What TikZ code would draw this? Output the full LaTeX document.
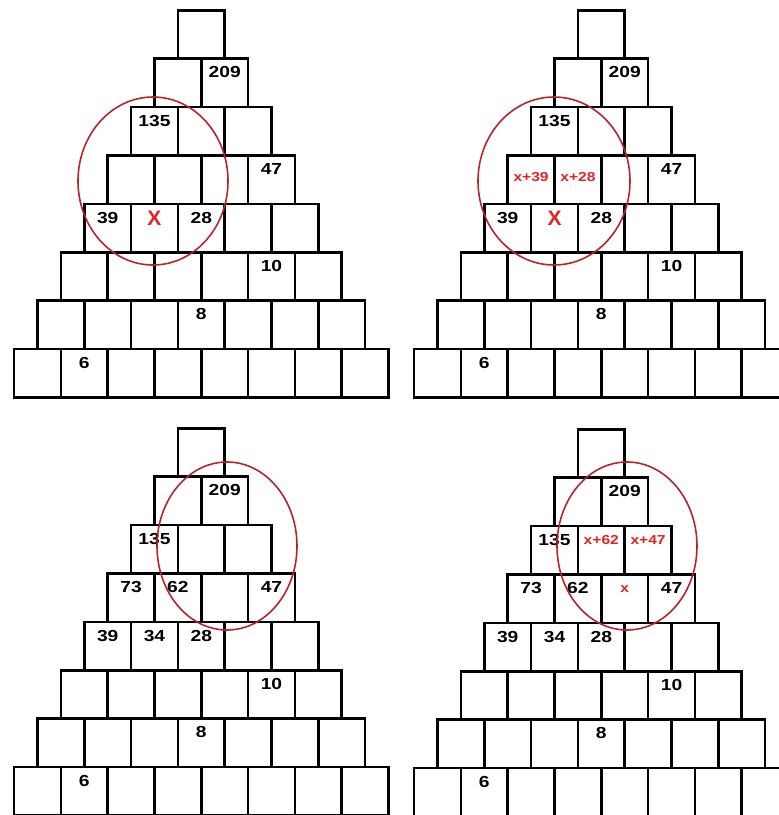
\documentclass[tikz,border=0pt]{standalone}
\usepackage{fontspec}
\setmainfont{Liberation Sans}
\newfontfamily\boxfont[FakeStretch=1.2]{Liberation Sans}
\usetikzlibrary{positioning}

\definecolor{ringred}{RGB}{185,35,45}
\definecolor{markred}{RGB}{225,35,35}

\begin{document}
\begin{tikzpicture}[x=1pt,y=-1pt,
    cell/.style={draw, line width=2.6pt, minimum width=46.8pt, minimum height=48.4pt,
      inner sep=0pt, anchor=north west},
    num/.style={font=\boxfont\bfseries\fontsize{16}{16}\selectfont, inner sep=0pt},
    rednum/.style={num, text=markred, font=\boxfont\bfseries\fontsize{13}{13}\selectfont},
    bigx/.style={num, text=markred, font=\bfseries\fontsize{21}{21}\selectfont},
    ring/.style={draw=ringred, line width=1.6pt}]
  \useasboundingbox (0,0) rectangle (779,815);
  \clip (0,0) rectangle (779,815);

  % the four pyramids of cells
  \foreach \p/\ox/\oy in {a/200/9, b/600/9, c/200/427, d/600/428} {
    \foreach \r in {1,...,8} {
      \foreach \c in {1,...,\r} {
        \node[cell] (\p-\r-\c) at ({\ox-\r*23.4+(\c-1)*46.8}, {\oy+(\r-1)*48.4}) {};
      }
    }
  }

  % given numbers
  \foreach \p in {a,b,c,d} {
    \foreach \r/\c/\t in {2/2/209, 3/1/135, 4/4/47, 5/1/39, 5/3/28, 6/5/10, 7/4/8, 8/2/6}
      \node[num] (\p-t-\r-\c) at ([yshift=-15pt]\p-\r-\c.north) {\t};
  }
  \foreach \p in {c,d} {
    \foreach \r/\c/\t in {4/1/73, 4/2/62, 5/2/34}
      \node[num] (\p-t-\r-\c) at ([yshift=-15pt]\p-\r-\c.north) {\t};
  }

  % unknowns
  \node[bigx] (a-t-5-2) at ([yshift=-16pt]a-5-2.north) {X};
  \node[bigx] (b-t-5-2) at ([yshift=-16pt]b-5-2.north) {X};
  \node[rednum] (b-t-4-1) at ([yshift=-23pt]b-4-1.north) {x+39};
  \node[rednum] (b-t-4-2) at ([yshift=-23pt]b-4-2.north) {x+28};
  \node[rednum] (d-t-3-2) at ([yshift=-15pt]d-3-2.north) {x+62};
  \node[rednum] (d-t-3-3) at ([yshift=-15pt]d-3-3.north) {x+47};
  \node[rednum] (d-t-4-3) at ([yshift=-16pt]d-4-3.north) {x};

  % rings
  \draw[ring] (153,181) ellipse [x radius=75pt, y radius=84pt];
  \draw[ring] (554,181) ellipse [x radius=76pt, y radius=84pt];
  \draw[ring] (227,546) ellipse [x radius=70pt, y radius=84pt];
  \draw[ring] (627,546) ellipse [x radius=70pt, y radius=84pt];
\end{tikzpicture}
\end{document}
